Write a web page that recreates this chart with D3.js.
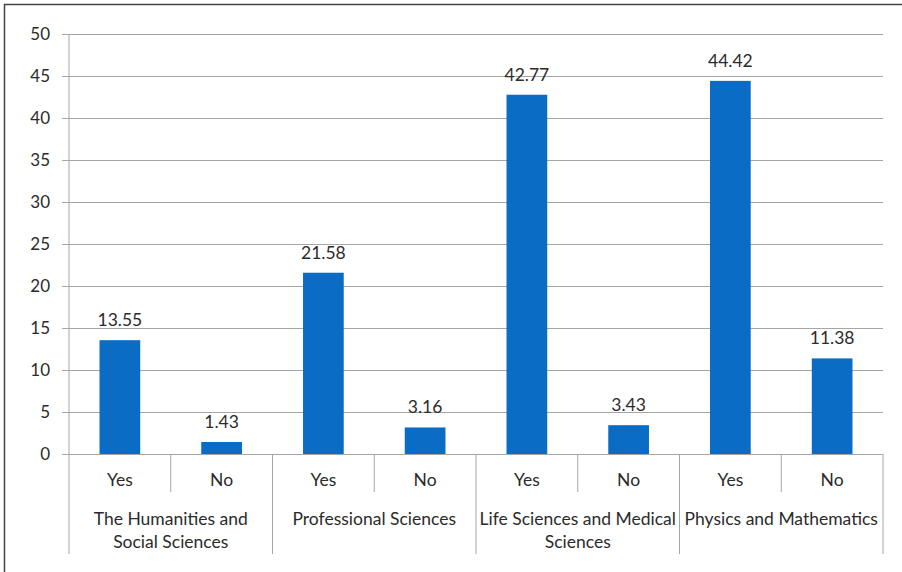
<!DOCTYPE html>
<html>
<head>
<meta charset="utf-8">
<script src="https://cdn.jsdelivr.net/npm/d3@7"></script>
<style>
  html, body { margin: 0; padding: 0; background: #fff; }
  svg { display: block; }
  text { font-family: Lato, "Open Sans", sans-serif; fill: #2b2b2b; }
</style>
</head>
<body>
<svg id="chart" width="902" height="572"></svg>
<script>
// Field groups, the two answers inside each, and the share per bar (%)
const groups = [
  ["The Humanities and", "Social Sciences"],
  ["Professional Sciences"],
  ["Life Sciences and Medical", "Sciences"],
  ["Physics and Mathematics"]
];
const answers = ["Yes", "No"];
const values = [13.55, 1.43, 21.58, 3.16, 42.77, 3.43, 44.42, 11.38];
const yTicks = [0, 5, 10, 15, 20, 25, 30, 35, 40, 45, 50];

const svg = d3.select("#chart");
const m = { left: 69, right: 883, top: 34, bottom: 454 };

// outer frame
svg.append("rect")
  .attr("x", 4.5).attr("y", 4.5)
  .attr("width", 920).attr("height", 600)
  .attr("fill", "none").attr("stroke", "#444").attr("stroke-width", 1.5);

const rows = [];
groups.forEach((g, gi) => answers.forEach((a, ai) => {
  rows.push({ key: gi + "-" + a, group: gi, answer: a, value: values[gi * answers.length + ai] });
}));

const x = d3.scaleBand().domain(rows.map(d => d.key))
  .range([m.left, m.right]).paddingInner(0.6).paddingOuter(0.3);
const y = d3.scaleLinear().domain([0, 50]).range([m.bottom, m.top]);

// gridlines with short ticks to the left
const yAxis = d3.axisLeft(y).tickValues(yTicks)
  .tickSize(-(m.right - m.left)).tickSizeOuter(0).tickPadding(19);
const gy = svg.append("g").attr("transform", `translate(${m.left},0)`).call(yAxis);
gy.select(".domain").remove();
gy.selectAll(".tick line").attr("stroke", "#a6a6a6").attr("x1", -7);
gy.selectAll(".tick text").attr("font-size", 17).attr("fill", "#2b2b2b")
  .style("font-family", "Lato, sans-serif");

// bars
svg.append("g").selectAll("rect").data(rows).join("rect")
  .attr("x", d => x(d.key))
  .attr("width", x.bandwidth())
  .attr("y", d => y(d.value))
  .attr("height", d => y(0) - y(d.value))
  .attr("fill", "#0a6cc4");

// value labels
svg.append("g").selectAll("text").data(rows).join("text")
  .attr("x", d => x(d.key) + x.bandwidth() / 2)
  .attr("y", d => y(d.value) - 14)
  .attr("text-anchor", "middle")
  .attr("font-size", 17.5)
  .text(d => d.value.toFixed(2));

// two-level category axis
const step = x.step();
const cx = svg.append("g");
cx.append("line").attr("x1", m.left).attr("x2", m.left).attr("y1", m.top).attr("y2", 554)
  .attr("stroke", "#a6a6a6");
rows.forEach((d, i) => {
  const right = m.left + (i + 1) * step;
  const isGroupEnd = (i + 1) % answers.length === 0;
  cx.append("line").attr("x1", right).attr("x2", right)
    .attr("y1", m.bottom).attr("y2", isGroupEnd ? 554 : 492)
    .attr("stroke", "#a6a6a6");
  cx.append("text")
    .attr("x", x(d.key) + x.bandwidth() / 2).attr("y", 486)
    .attr("text-anchor", "middle").attr("font-size", 17.5)
    .text(d.answer);
});
groups.forEach((g, gi) => {
  const center = m.left + (gi + 0.5) * step * answers.length;
  g.forEach((line, li) => {
    cx.append("text")
      .attr("x", center).attr("y", 525 + li * 23)
      .attr("text-anchor", "middle").attr("font-size", 17.5)
      .text(line);
  });
});
</script>
</body>
</html>
